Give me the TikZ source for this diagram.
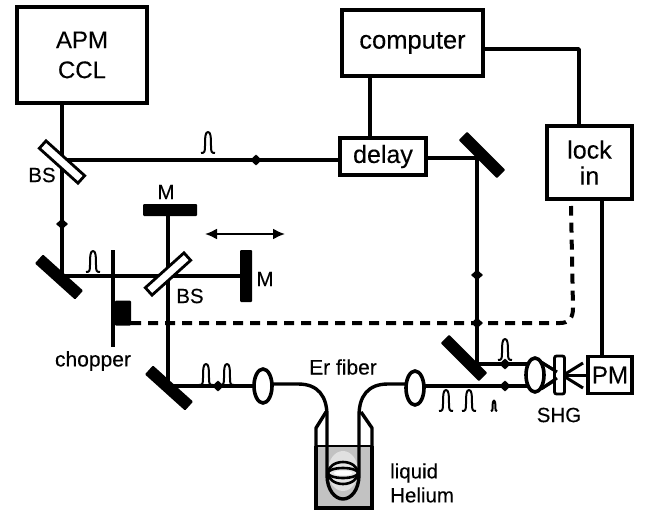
\documentclass[tikz,border=0pt]{standalone}
\usepackage{fontspec}
\setmainfont{Liberation Sans}[FakeBold=0.25]
\usetikzlibrary{shapes.geometric,arrows.meta}
\tikzset{
  x=1pt,y=-1pt,
  beam/.style={line width=3.4pt,line join=round},
  boxn/.style={draw,line width=3.8pt,inner sep=0pt,align=center,font=\fontsize{24}{29}\selectfont},
  mirror/.style={fill=black,rounded corners=1pt,inner sep=0pt,minimum width=54pt,minimum height=12pt},
  splitter/.style={draw,fill=white,line width=2.8pt,inner sep=0pt,minimum width=52pt,minimum height=10pt},
  lens/.style={draw,fill=white,ellipse,line width=3.6pt,inner sep=0pt,minimum width=18pt,minimum height=34pt},
  lab/.style={inner sep=0pt,font=\fontsize{20.5}{24}\selectfont},
  tick/.style={diamond,fill=black,inner sep=0pt,minimum width=12pt,minimum height=11pt},
  pulse/.pic={\draw[line width=2pt,line join=round] (-7,0) .. controls (-3.5,0) and (-3,-1) .. (-3,-7) .. controls (-3,-17) and (-2.5,-21) .. (0,-21) .. controls (2.5,-21) and (3,-17) .. (3,-7) .. controls (3,-1) and (3.5,0) .. (7,0);},
}
\begin{document}
\begin{tikzpicture}
\useasboundingbox (0,0) rectangle (645,511);
\fill[white] (0,0) rectangle (645,511);

% boxes
\node[boxn,minimum width=130pt,minimum height=96pt] (apm) at (82,55) {APM\\[1pt]CCL};
\node[boxn,minimum width=141pt,minimum height=66pt] (comp) at (412.5,43) {\fontsize{25.5}{30}\selectfont computer};
\node[boxn,minimum width=86pt,minimum height=37pt] (delay) at (383,156.5) {\fontsize{25}{30}\selectfont delay};
\node[boxn,minimum width=85pt,minimum height=73pt] (lock) at (589.5,162.5) {\fontsize{25}{30}\selectfont lock\\[-3pt]\fontsize{25}{30}\selectfont in};
\node[boxn,minimum width=44pt,minimum height=37pt] (pm) at (610,375) {PM};

% helper points
\coordinate (bs1p) at (62,160);
\coordinate (m1p) at (62,276);
\coordinate (bs2p) at (168,276);
\coordinate (m2p) at (246,276);
\coordinate (m3p) at (168,210);
\coordinate (m4p) at (168,386);
\coordinate (m5p) at (477,158);
\coordinate (m6p) at (477,364);
\coordinate (cornerA) at (579,49);
\coordinate (chopTop) at (113,250);
\coordinate (chopBot) at (113,347);

% fibre, dewar
\fill[black!24] (316,446) rectangle (372,508);
\fill[black!12] (343,471) ellipse (15 and 20);
\foreach \ry in {11,5}{
  \draw[line width=2.6pt,fill=black!10] (343,473) ellipse (15 and \ry);
}
\fill[white] (343,473) ellipse (9 and 2.5);
\draw[line width=3.4pt,line join=round] (316,446) -- (316,428) -- (326,412);
\draw[line width=3.4pt,line join=round] (372,446) -- (372,428) -- (361,412);
\draw[line width=4pt] (316,446) -- (316,508) -- (372,508) -- (372,446);
\draw[line width=2.8pt] (316,446) -- (372,446);
\coordinate (fa) at (263,384);
\coordinate (fb) at (415,384);
\draw[beam] (fa) -- (298,384) .. controls (318,384) and (327,396) .. (327,416) -- (327,475) .. controls (327,490) and (335,499) .. (343,499) .. controls (351,499) and (359,490) .. (359,475) -- (359,416) .. controls (359,396) and (368,384) .. (388,384) -- (fb);

% beams
\draw[beam] (apm.south -| bs1p) -- (bs1p) -- (delay.west |- bs1p);
\draw[beam] (bs1p) -- (m1p) -- (m2p);
\draw[beam] (m3p) -- (m4p);
\draw[beam] (m4p) -- (263,386);
\draw[beam] (delay.east |- m5p) -- (m5p) -- (m6p) -- (535,364);
\draw[beam] (415,386) -- (535,386);
\draw[beam] (comp.south -| 370,0) -- (delay.north -| 370,0);
\draw[beam] (comp.east |- cornerA) -- (cornerA) -- (lock.north -| cornerA);
\draw[beam] (lock.south -| 602,0) -- (pm.north -| 602,0);
\draw[beam] (chopTop) -- (chopBot);

% dashed reference
\node[fill=black,rounded corners=1pt,inner sep=0pt,minimum width=16pt,minimum height=25pt] (chop) at (123,313) {};
\draw[line width=4pt,dash pattern=on 10pt off 7pt] (chop.east |- 0,323) -- (560,323) .. controls (569,323) and (573,318) .. (573,308) -- (571,206);

% optics
\node[splitter,rotate=-42] (bs1) at (62,162) {};
\node[splitter,rotate=42] (bs2) at (168,274) {};
\node[mirror,rotate=-42] (m1) at (59,277) {};
\node[mirror] (m3) at (170,210) {};
\node[mirror,rotate=90,minimum width=52pt] (m2) at (246,276) {};
\node[mirror,rotate=-42] (m4) at (169,388) {};
\node[mirror,rotate=-45] (m5) at (482,155) {};
\node[mirror,rotate=-45] (m6) at (464,358) {};
\node[lens] (l1) at (263,386) {};
\node[lens] (l2) at (415,388) {};
\node[lens] (l3) at (535,375) {};

% SHG focus
\draw[line width=3pt] (541,362) -- (583,388);
\draw[line width=3pt] (541,389) -- (583,363);
\draw[line width=3pt] (566,375) -- (pm.west);
\node[draw,fill=white,rounded corners=2pt,line width=2.8pt,inner sep=0pt,minimum width=10pt,minimum height=38pt] (shg) at (559.5,375) {};
\draw[line width=3pt] (541,362) -- (557,372);
\draw[line width=3pt] (541,389) -- (557,378);

% travel arrow
\coordinate (trL) at (205,234);
\coordinate (trR) at (285,234);
\draw[line width=2pt,{Latex[length=12pt,width=11pt]}-{Latex[length=12pt,width=11pt]}] (trL) -- (trR);

% direction marks
\node[tick] (t1) at (256,160) {};
\node[tick] (t2) at (62,224) {};
\node[tick] (t3) at (477,275) {};
\node[tick] (t4) at (477,323) {};
\node[tick] (t5) at (218,386) {};
\node[tick] (t6) at (505,364) {};
\node[tick] (t7) at (505,386) {};

% pulses
\pic at (208,153) {pulse};
\pic at (93,272) {pulse};
\pic at (206,385) {pulse};
\pic at (227,385) {pulse};
\pic at (446,411) {pulse};
\pic at (469,411) {pulse};
\pic[xscale=.45,yscale=.5] at (494,411) {pulse};
\pic at (505,360) {pulse};

% labels
\node[lab] (lbs1) at (42,175) {BS};
\node[lab] (lm1) at (166,192) {M};
\node[lab] (lm2) at (265,279) {M};
\node[lab] (lbs2) at (190,296) {BS};
\node[lab,font=\fontsize{21}{24}\selectfont] (lchop) at (93,361) {chopper};
\node[lab,font=\fontsize{21}{24}\selectfont] (ler) at (343,367) {Er fiber};
\node[lab] (lshg) at (559,415) {SHG};
\node[lab,align=left,anchor=west] (lhe) at (390,483) {liquid\\Helium};
\end{tikzpicture}
\end{document}
